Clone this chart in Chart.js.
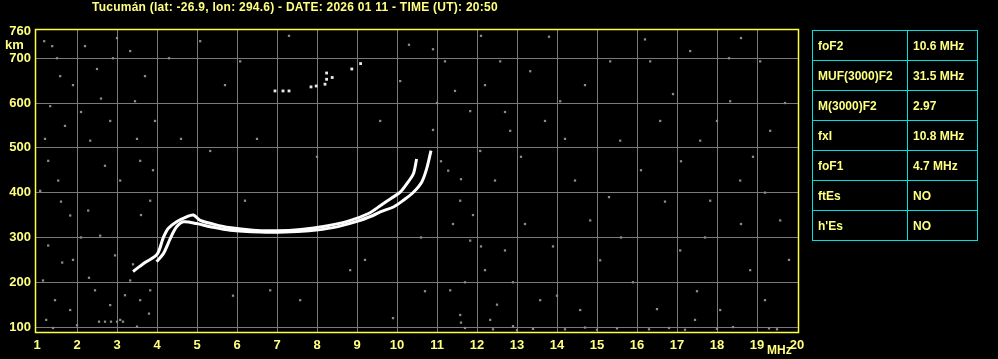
<!DOCTYPE html>
<html>
<head>
<meta charset="utf-8">
<script src="https://cdn.jsdelivr.net/npm/chart.js@4"></script>
<style>
    body { margin: 0; background: #000; }
    #wrap { position: relative; width: 998px; height: 359px; background: #000; }
    .lbl { position: absolute; color: #ffff80; font: bold 12px "Liberation Sans", Arial, sans-serif; white-space: nowrap; }
    #info { position: absolute; left: 812px; top: 30px; border-collapse: collapse; }
    #info td { border: 1px solid #00e0e0; color: #ffff80; font: bold 12px "Liberation Sans", Arial, sans-serif;
               height: 29px; padding: 0 0 0 5px; }
    #info td.k { width: 89px; }
    #info td.v { width: 64px; }
</style>
</head>
<body>
<div id="wrap">
    <canvas id="chart"></canvas>
    <div class="lbl" style="left:92px; top:0px; letter-spacing:0.25px;">Tucumán (lat: -26.9, lon: 294.6) - DATE: 2026 01 11 - TIME (UT): 20:50</div>
    <div class="lbl" style="left:5px; top:37px; font-size:13px;">km</div>
    <div class="lbl" style="left:767px; top:343px; font-size:12px;">MHz</div>
    <table id="info"></table>
</div>
<script>
// ordinary trace
const oFreq   = [3.4, 3.7, 4.0, 4.16, 4.28, 4.49, 4.74, 4.91, 5.08, 5.4, 5.8, 6.4, 7.0, 7.6, 8.2, 8.8, 9.3, 9.6, 9.85, 10.08, 10.28, 10.41, 10.49];
const oHeight = [224, 244, 262, 300, 320, 335, 346, 350, 338, 330, 322, 316, 315, 318, 325, 337, 354, 372, 387, 401, 424, 442, 475];

// extraordinary trace
const xFreq   = [3.99, 4.16, 4.28, 4.37, 4.49, 4.66, 4.99, 5.33, 5.83, 6.58, 7.2, 7.8, 8.4, 9.0, 9.4, 9.58, 9.91, 10.16, 10.41, 10.62, 10.74, 10.85];
const xHeight = [246, 264, 287, 305, 324, 335, 331, 324, 316, 312, 312, 315, 322, 336, 349, 357, 368, 383, 401, 424, 453, 494];

// faint echoes up near 650 km
const echoFreq   = [6.95, 7.15, 7.3, 7.85, 7.98, 8.2, 8.24, 8.24, 8.38, 8.87, 9.09];
const echoHeight = [627, 627, 627, 636, 638, 642, 653, 667, 657, 676, 688];

// background speckle, [MHz, km]
const noiseDots = [
    [1.08, 404], [1.18, 738], [1.38, 727], [1.58, 660], [1.33, 593], [1.70, 549], [1.28, 471], [1.53, 427],
    [1.83, 349], [1.28, 282], [1.63, 244], [1.15, 204], [1.45, 160], [1.83, 138], [1.23, 116],
    [2.20, 727], [2.50, 676], [2.83, 560], [2.33, 516], [2.70, 460], [3.08, 427], [2.28, 360], [2.58, 304],
    [2.95, 260], [2.45, 182], [2.83, 149], [3.08, 116],
    [3.33, 716], [3.70, 660], [3.45, 604], [3.95, 560], [3.58, 471], [3.83, 382], [3.33, 204], [3.58, 160],
    [3.83, 182], [3.20, 171], [2.55, 112], [2.7, 112], [2.85, 112], [3.0, 112], [3.15, 112],
    [1.5, 700], [1.9, 640], [2.1, 580], [1.2, 520], [2.6, 610], [2.9, 700], [3.5, 520], [3.9, 450],
    [1.6, 380], [2.1, 300], [3.6, 350], [1.9, 250], [2.3, 210], [3.4, 240], [3.8, 130], [1.4, 98],
    [2.0, 104], [3.5, 101],
    [11.2, 693], [11.45, 627], [11.83, 582], [12.08, 493], [11.28, 449], [11.58, 382], [11.83, 293],
    [12.2, 227], [11.33, 182], [11.58, 127], [12.33, 116], [12.58, 693], [12.83, 538], [12.45, 427], [12.7, 271],
    [13.33, 671], [13.7, 560], [14.08, 604], [14.45, 427], [14.83, 338], [15.08, 249], [13.58, 160],
    [15.58, 516], [15.33, 693], [14.58, 138],
    [16.33, 693], [16.58, 560], [17.33, 716], [17.58, 516], [17.83, 382], [17.08, 271], [18.33, 604],
    [18.58, 427], [19.08, 693], [19.33, 538], [19.58, 338], [18.83, 227], [19.2, 160], [18.08, 138], [17.45, 116],
    [5.33, 493], [6.2, 382], [6.83, 182], [7.58, 160], [8.83, 227], [9.58, 560], [10.08, 649], [6.08, 693], [5.08, 738],
    [12.4, 95], [13.0, 93], [13.4, 96], [14.2, 95], [15.0, 94], [15.5, 97], [16.3, 95], [17.2, 94], [18.0, 96], [19.5, 95],
    [3.0, 745], [7.3, 750], [12.1, 750], [13.8, 748], [16.2, 742], [18.6, 745],
    [10.9, 720], [11.0, 600], [10.9, 540], [11.1, 470], [11.6, 430], [11.4, 330], [11.9, 350], [12.1, 280],
    [11.7, 200], [12.5, 150], [12.9, 200], [12.2, 640], [12.7, 580], [13.1, 480], [13.2, 330], [13.9, 280],
    [14.2, 520], [14.7, 640], [15.3, 390], [15.6, 300], [15.9, 200], [16.1, 450], [16.7, 380], [16.9, 620],
    [17.1, 470], [17.7, 300], [18.0, 560], [18.3, 700], [18.6, 330], [18.9, 480], [19.2, 400], [19.7, 600],
    [19.8, 250], [17.5, 180], [16.5, 140], [14.0, 170], [10.6, 300], [10.7, 180], [9.2, 250], [8.0, 480],
    [5.7, 640], [4.3, 700], [4.6, 520], [5.9, 170], [6.5, 520], [9.9, 120], [10.3, 730], [11.6, 110],
    [11.7, 98], [12.9, 102], [14.7, 99], [16.8, 98], [18.4, 100], [19.3, 97]
];

const yTicks = [100, 200, 300, 400, 500, 600, 700, 760];

const paramNames  = ['foF2', 'MUF(3000)F2', 'M(3000)F2', 'fxI', 'foF1', 'ftEs', "h'Es"];
const paramValues = ['10.6 MHz', '31.5 MHz', '2.97', '10.8 MHz', '4.7 MHz', 'NO', 'NO'];

const YELLOW = '#ffff80';
const GRID = '#7a7a7a';

function pts(xs, ys) {
    return xs.map((x, i) => ({ x: x, y: ys[i] }));
}

// table on the right
let rows = '';
paramNames.forEach((name, i) => {
    rows += `<tr><td class="k">${name}</td><td class="v">${paramValues[i]}</td></tr>`;
});
document.getElementById('info').innerHTML = rows;

const frame = {
    id: 'frame',
    afterDraw(chart) {
        const a = chart.chartArea;
        const ctx = chart.ctx;
        ctx.save();
        ctx.strokeStyle = '#ffff40';
        ctx.lineWidth = 1.5;
        ctx.strokeRect(a.left - 0.5, a.top - 0.5, a.right - a.left + 1, a.bottom - a.top + 1);
        ctx.restore();
    }
};

new Chart(document.getElementById('chart'), {
    type: 'scatter',
    data: {
        datasets: [
            {
                label: 'o',
                type: 'line',
                data: pts(oFreq, oHeight),
                borderColor: '#ffffff',
                borderWidth: 3,
                pointRadius: 0,
                tension: 0.3,
                order: 1
            },
            {
                label: 'x',
                type: 'line',
                data: pts(xFreq, xHeight),
                borderColor: '#ffffff',
                borderWidth: 3,
                pointRadius: 0,
                tension: 0.3,
                order: 1
            },
            {
                label: 'echo',
                data: pts(echoFreq, echoHeight),
                pointStyle: 'rect',
                pointRadius: 2,
                backgroundColor: '#e8e8e8',
                borderWidth: 0,
                order: 2
            },
            {
                label: 'noise',
                data: noiseDots.map(d => ({ x: d[0], y: d[1] })),
                pointStyle: 'rect',
                pointRadius: 1.6,
                backgroundColor: '#8c8c8c',
                borderWidth: 0,
                order: 3
            }
        ]
    },
    options: {
        responsive: true,
        maintainAspectRatio: false,
        animation: false,
        layout: { padding: { top: 30, right: 200, left: 0, bottom: 0 } },
        plugins: {
            legend: { display: false },
            tooltip: { enabled: false }
        },
        scales: {
            x: {
                type: 'linear',
                min: 0.975,
                max: 20.025,
                afterBuildTicks: scale => {
                    scale.ticks = [];
                    for (let f = 1; f <= 20; f++) scale.ticks.push({ value: f });
                },
                afterFit: scale => { scale.height = 27; },
                grid: {
                    color: c => (c.tick && (c.tick.value === 1 || c.tick.value === 20)) ? 'transparent' : GRID,
                    drawTicks: false,
                    lineWidth: 1
                },
                border: { display: false },
                ticks: {
                    color: YELLOW,
                    padding: 6,
                    maxRotation: 0,
                    autoSkip: false,
                    font: { family: 'Liberation Sans', size: 13, weight: 'bold' }
                }
            },
            y: {
                type: 'linear',
                min: 89,
                max: 763,
                afterBuildTicks: scale => {
                    scale.ticks = yTicks.map(v => ({ value: v }));
                },
                afterFit: scale => { scale.width = 36; },
                grid: {
                    color: c => (c.tick && c.tick.value === 760) ? 'transparent' : GRID,
                    drawTicks: false,
                    lineWidth: 1
                },
                border: { display: false },
                ticks: {
                    color: YELLOW,
                    padding: 5,
                    autoSkip: false,
                    font: { family: 'Liberation Sans', size: 13, weight: 'bold' }
                }
            }
        }
    },
    plugins: [frame]
});
</script>
</body>
</html>
